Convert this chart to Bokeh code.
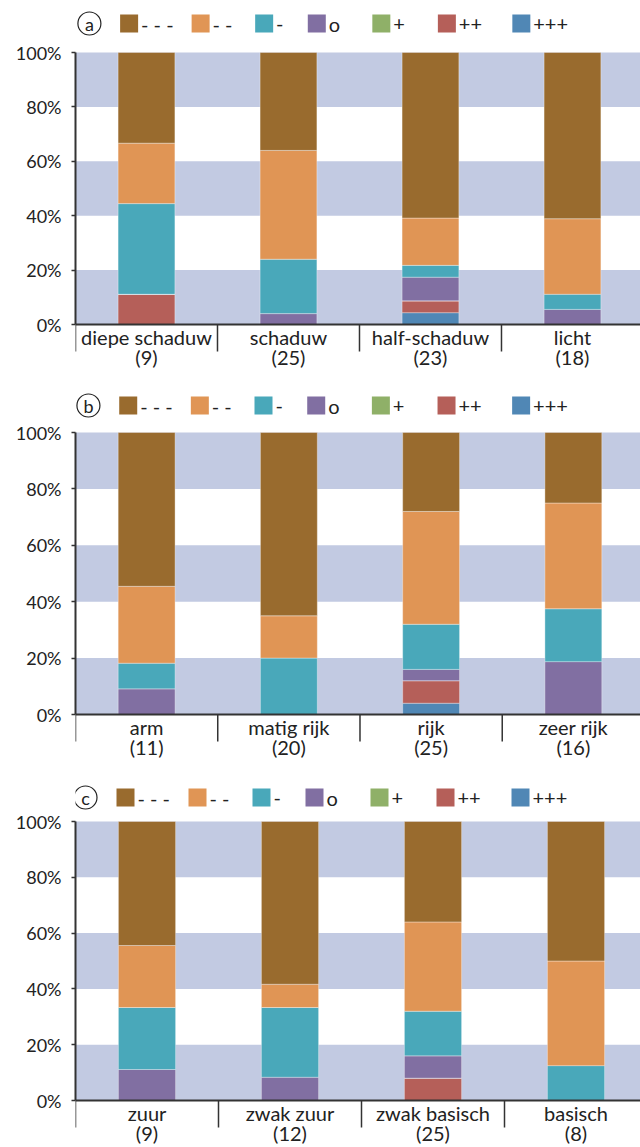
from bokeh.plotting import figure
from bokeh.layouts import column
from bokeh.models import ColumnDataSource, FixedTicker, PrintfTickFormatter, Range1d
from bokeh.core.properties import value
from bokeh.embed import file_html
from bokeh.resources import INLINE

# Response classes, from strongly negative to strongly positive
class_labels = ["- - -", "- -", "-", "o", "+", "++", "+++"]
class_colors = ["#996B2E", "#E09555", "#49A8BA", "#816FA2", "#8FB068", "#B55F59", "#5087B5"]

# (a) light
light_cats = ["diepe schaduw", "schaduw", "half-schaduw", "licht"]
light_n = [9, 25, 23, 18]
light_counts = {
    "- - -": [3, 9, 14, 11],
    "- -": [2, 10, 4, 5],
    "-": [3, 5, 1, 1],
    "o": [0, 1, 2, 1],
    "+": [0, 0, 0, 0],
    "++": [1, 0, 1, 0],
    "+++": [0, 0, 1, 0],
}

# (b) nutrients
nutrient_cats = ["arm", "matig rijk", "rijk", "zeer rijk"]
nutrient_n = [11, 20, 25, 16]
nutrient_counts = {
    "- - -": [6, 13, 7, 4],
    "- -": [3, 3, 10, 6],
    "-": [1, 4, 4, 3],
    "o": [1, 0, 1, 3],
    "+": [0, 0, 0, 0],
    "++": [0, 0, 2, 0],
    "+++": [0, 0, 1, 0],
}

# (c) acidity
acidity_cats = ["zuur", "zwak zuur", "zwak basisch", "basisch"]
acidity_n = [9, 12, 25, 8]
acidity_counts = {
    "- - -": [4, 7, 9, 4],
    "- -": [2, 1, 8, 3],
    "-": [2, 3, 4, 1],
    "o": [1, 1, 2, 0],
    "+": [0, 0, 0, 0],
    "++": [0, 0, 2, 0],
    "+++": [0, 0, 0, 0],
}

y_ticks = [0, 20, 40, 60, 80, 100]
band_color = "#C2CAE2"
ink = "#222222"
axis_ink = "#333333"
FONT = "Lato"
CAT_W = 143.0  # pixels per category
SEP_LEN = 27   # length of the category separators below the axis, px
LEGEND_LEFT = [116, 188, 252, 305, 370, 436, 511]  # square left edges, px


def make_panel(letter, cats, ns, counts, fig_h, left, zero_px, full_px, legend_px):
    scale = (zero_px - full_px) / 100.0
    x_end = (640 - left) / CAT_W
    y_end = zero_px / scale
    y_start = -(fig_h - zero_px) / scale
    p = figure(width=640, height=fig_h,
               x_range=Range1d(0, x_end), y_range=Range1d(y_start, y_end),
               output_backend="svg", toolbar_location=None,
               min_border_left=left, min_border_right=0,
               min_border_top=0, min_border_bottom=0)
    p.outline_line_color = None
    p.xgrid.visible = False
    p.ygrid.visible = False
    p.background_fill_color = "white"
    p.border_fill_color = "white"

    # alternating horizontal bands
    lows = y_ticks[0:-1:2]
    highs = y_ticks[1::2]
    p.quad(left=0, right=len(cats), bottom=lows, top=highs,
           fill_color=band_color, line_color=None)

    # stacked percentage bars
    centers = [i + 0.5 for i in range(len(cats))]
    data = {"x": centers}
    keys = []
    for j, lab in enumerate(class_labels):
        key = "c%d" % j
        keys.append(key)
        data[key] = [100.0 * c / n for c, n in zip(counts[lab], ns)]
    src = ColumnDataSource(data)
    p.vbar_stack(keys[::-1], x="x", width=0.4, color=class_colors[::-1], source=src,
                 line_color="white", line_alpha=0.35, line_width=1)

    # category separators hanging below the axis
    bounds = list(range(len(cats) + 1))
    p.segment(x0=bounds, y0=[0] * len(bounds), x1=bounds,
              y1=[-SEP_LEN / scale] * len(bounds),
              line_color=axis_ink, line_width=1.5)

    # x axis pinned at 0 %, labels centred under each bar
    xa = p.xaxis[0]
    xa.fixed_location = 0
    xa.ticker = FixedTicker(ticks=centers)
    xa.major_label_overrides = {c: "%s\n(%d)" % (name, n) for c, name, n in zip(centers, cats, ns)}
    xa.major_tick_out = 0
    xa.major_tick_in = 0
    xa.minor_tick_line_color = None
    xa.axis_line_color = axis_ink
    xa.axis_line_width = 2
    xa.major_label_standoff = 0
    xa.major_label_text_font = FONT
    xa.major_label_text_font_size = "20px"
    xa.major_label_text_color = ink
    xa.major_label_text_line_height = 0.85

    # y axis: percentages
    ya = p.yaxis[0]
    ya.ticker = FixedTicker(ticks=y_ticks)
    ya.bounds = (0, 100)
    ya.formatter = PrintfTickFormatter(format="%d%%")
    ya.major_tick_out = 4
    ya.major_tick_in = 0
    ya.minor_tick_line_color = None
    ya.axis_line_color = axis_ink
    ya.axis_line_width = 2
    ya.major_tick_line_color = axis_ink
    ya.major_tick_line_width = 1.5
    ya.major_label_standoff = 10
    ya.major_label_text_font = FONT
    ya.major_label_text_font_size = "18px"
    ya.major_label_text_color = ink

    # legend row
    ly = (zero_px - legend_px) / scale
    sq_x = [(px + 9 - left) / CAT_W for px in LEGEND_LEFT]
    tx_x = [(px + 21 - left) / CAT_W for px in LEGEND_LEFT]
    p.scatter(x=sq_x, y=[ly] * len(sq_x), marker="square", size=18,
              fill_color=class_colors, line_color=None)
    p.text(x=tx_x, y=[ly] * len(tx_x), text=class_labels,
           text_font=value(FONT), text_font_size="20px", text_color=ink,
           text_baseline="middle", text_align="left")

    # panel letter in a circle
    cx = (85 - left) / CAT_W
    p.scatter(x=[cx], y=[ly], marker="circle", size=23, fill_color=None,
              line_color=ink, line_width=1.2)
    p.text(x=[cx], y=[ly], text=[letter], text_font=value(FONT),
           text_font_size="18px", text_color=ink,
           text_baseline="middle", text_align="center")
    return p


pa = make_panel("a", light_cats, light_n, light_counts, 385, 71, 324, 52, 23)
pb = make_panel("b", nutrient_cats, nutrient_n, nutrient_counts, 390, 72, 329, 47, 20)
pc = make_panel("c", acidity_cats, acidity_n, acidity_counts, 372, 75, 325, 46, 22)

layout = column(pa, pb, pc, spacing=0)
open("out.html", "w").write(file_html(layout, INLINE))
